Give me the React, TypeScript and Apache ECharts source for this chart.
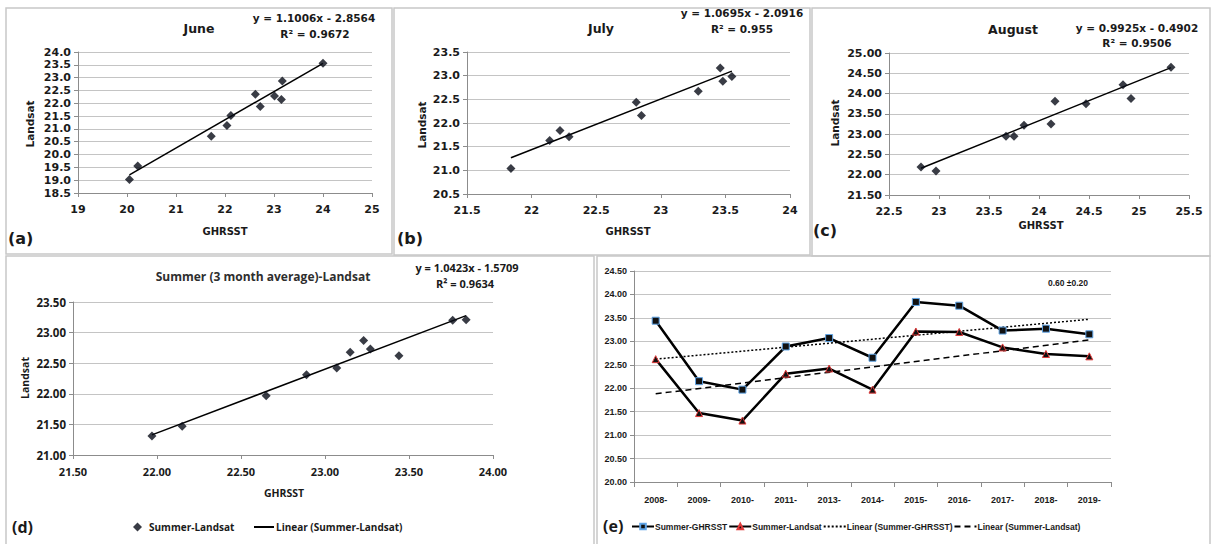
import React, { useEffect, useRef } from "react";
import * as echarts from "echarts";

// ---------- data ----------
// (a) June
const juneGhrsst = [20.05, 20.22, 21.72, 22.04, 22.12, 22.62, 22.72, 23.01, 23.15, 23.17, 24.0];
const juneLandsat = [19.03, 19.55, 20.71, 21.13, 21.52, 22.35, 21.87, 22.28, 22.15, 22.87, 23.56];
const juneFit = [1.1006, -2.8564];
// (b) July
const julyGhrsst = [21.84, 22.14, 22.22, 22.29, 22.81, 22.85, 23.29, 23.46, 23.48, 23.55];
const julyLandsat = [21.04, 21.63, 21.84, 21.71, 22.44, 22.16, 22.67, 23.16, 22.88, 22.98];
const julyFit = [1.0695, -2.0916];
// (c) August
const augGhrsst = [22.82, 22.97, 23.67, 23.75, 23.85, 24.12, 24.16, 24.47, 24.84, 24.92, 25.32];
const augLandsat = [22.19, 22.09, 22.95, 22.95, 23.22, 23.25, 23.81, 23.75, 24.22, 23.88, 24.65];
const augFit = [0.9925, -0.4902];
// (d)/(e) summer (3 month average)
const years = ["2008-", "2009-", "2010-", "2011-", "2013-", "2014-", "2015-", "2016-", "2017-", "2018-", "2019-"];
const summerGhrsst = [23.44, 22.15, 21.97, 22.89, 23.07, 22.65, 23.84, 23.76, 23.23, 23.27, 23.15];
const summerLandsat = [22.62, 21.47, 21.31, 22.31, 22.42, 21.97, 23.21, 23.2, 22.87, 22.73, 22.68];
const summerFit = [1.0423, -1.5709];
const ghrsstTrendEnds = [22.62, 23.47];
const landsatTrendEnds = [21.88, 23.03];

const equations = {
  a: ["y = 1.1006x - 2.8564", "R² = 0.9672"],
  b: ["y = 1.0695x - 2.0916", "R² = 0.955"],
  c: ["y = 0.9925x - 0.4902", "R² = 0.9506"],
  d: ["y = 1.0423x - 1.5709", "R² = 0.9634"],
};

// ---------- helpers ----------
const ABC = "'DejaVu Sans', sans-serif";
const DF = "'Open Sans', sans-serif";
const EF = "'Liberation Sans', Arial, sans-serif";
const TXT = "#1a1a1a";
const GRID = "#c4c4c4";
const AXIS = "#8c8c8c";
const MARK = "#070b16";

const zip = (xs: number[], ys: number[]) => xs.map((x, i) => [x, ys[i]]);
const fitLine = (xs: number[], fit: number[]) => {
  const x0 = Math.min(...xs);
  const x1 = Math.max(...xs);
  return [
    [x0, fit[0] * x0 + fit[1]],
    [x1, fit[0] * x1 + fit[1]],
  ];
};

function valueAxis(idx: number, min: number, max: number, interval: number, digits: number | null, font: string, size: number, isY: boolean) {
  return {
    type: "value",
    gridIndex: idx,
    min,
    max,
    interval,
    axisLine: { show: true, lineStyle: { color: AXIS, width: 1 } },
    axisTick: { show: true, length: 4, lineStyle: { color: AXIS } },
    splitLine: { show: isY, lineStyle: { color: GRID, width: 1 } },
    axisLabel: {
      fontFamily: font,
      fontWeight: "bold",
      fontSize: size,
      color: TXT,
      margin: isY ? 7 : 11,
      formatter: (v: number) => (digits === null ? String(+v.toFixed(2)) : v.toFixed(digits)),
    },
  };
}

const txt = (x: number, y: number, text: string, font: string, size: number, extra: any = {}) => ({
  type: "text",
  x,
  y,
  silent: true,
  ...extra,
  style: {
    text,
    fontFamily: font,
    fontWeight: "bold",
    fontSize: size,
    fill: TXT,
    align: "center",
    verticalAlign: "middle",
    ...(extra.style || {}),
  },
});

const border = (x: number, y: number, w: number, h: number) => ({
  type: "rect",
  silent: true,
  shape: { x, y, width: w, height: h },
  style: { fill: "none", stroke: "#c8c8c8", lineWidth: 1.5 },
});

const stripPrefix = (name: string) => name.replace(/^[a-e]:/, "");

export default function App() {
  const ref = useRef<HTMLDivElement>(null);

  useEffect(() => {
    if (!ref.current) return;
    const chart = echarts.init(ref.current, null, { renderer: "svg" });

    const scatterSeries = (name: string, idx: number, xs: number[], ys: number[]) => ({
      name,
      type: "scatter",
      xAxisIndex: idx,
      yAxisIndex: idx,
      symbol: "diamond",
      symbolSize: 9,
      itemStyle: { color: MARK },
      data: zip(xs, ys),
      z: 3,
    });
    const trendSeries = (name: string, idx: number, xs: number[], fit: number[]) => ({
      name,
      type: "line",
      xAxisIndex: idx,
      yAxisIndex: idx,
      symbol: "none",
      lineStyle: { color: "#000", width: 1.5 },
      itemStyle: { color: "#000" },
      data: fitLine(xs, fit),
      z: 2,
    });

    const dLegendText = { fontFamily: DF, fontWeight: "bold", fontSize: 10, color: TXT };

    const option: any = {
      animation: false,
      backgroundColor: "#ffffff",
      grid: [
        { left: 78, top: 52, width: 294, height: 141 },
        { left: 467, top: 52, width: 323, height: 142 },
        { left: 889, top: 53, width: 300, height: 142 },
        { left: 73, top: 302, width: 420, height: 153 },
        { left: 634, top: 271, width: 477, height: 211 },
      ],
      xAxis: [
        valueAxis(0, 19, 25, 1, 0, ABC, 11, false),
        valueAxis(1, 21.5, 24, 0.5, null, ABC, 11, false),
        valueAxis(2, 22.5, 25.5, 0.5, null, ABC, 11, false),
        valueAxis(3, 21.5, 24, 0.5, 2, DF, 11, false),
        {
          type: "category",
          gridIndex: 4,
          data: years,
          boundaryGap: true,
          axisLine: { show: true, lineStyle: { color: AXIS } },
          axisTick: { show: true, length: 5, alignWithLabel: false, lineStyle: { color: AXIS } },
          axisLabel: { fontFamily: EF, fontWeight: "bold", fontSize: 9, color: TXT, margin: 13 },
        },
      ],
      yAxis: [
        valueAxis(0, 18.5, 24, 0.5, 1, ABC, 11, true),
        valueAxis(1, 20.5, 23.5, 0.5, 1, ABC, 11, true),
        valueAxis(2, 21.5, 25, 0.5, 2, ABC, 11, true),
        valueAxis(3, 21, 23.5, 0.5, 2, DF, 11.5, true),
        valueAxis(4, 20, 24.5, 0.5, 2, EF, 9, true),
      ],
      legend: [
        {
          left: 133,
          top: 522,
          padding: 0,
          itemWidth: 9,
          itemHeight: 9,
          selectedMode: false,
          formatter: stripPrefix,
          textStyle: { ...dLegendText, padding: [0, 0, 0, 2] },
          data: [{ name: "d:Summer-Landsat", icon: "diamond" }],
        },
        {
          left: 253,
          top: 522,
          padding: 0,
          itemWidth: 20,
          itemHeight: 10,
          selectedMode: false,
          formatter: stripPrefix,
          textStyle: { ...dLegendText, padding: [0, 0, 0, -3] },
          data: [{ name: "d:Linear (Summer-Landsat)", itemStyle: { opacity: 0 } }],
        },
        {
          left: 631,
          top: 522,
          padding: 0,
          itemWidth: 22,
          itemHeight: 7,
          itemGap: 1,
          selectedMode: false,
          formatter: stripPrefix,
          textStyle: { fontFamily: EF, fontWeight: "bold", fontSize: 8.5, color: TXT, padding: [0, 0, 0, -4] },
          data: [
            "e:Summer-GHRSST",
            "e:Summer-Landsat",
            { name: "e:Linear (Summer-GHRSST)", itemStyle: { opacity: 0 } },
            { name: "e:Linear (Summer-Landsat)", itemStyle: { opacity: 0 } },
          ],
        },
      ],
      series: [
        trendSeries("a:trend", 0, juneGhrsst, juneFit),
        scatterSeries("a:June", 0, juneGhrsst, juneLandsat),
        trendSeries("b:trend", 1, julyGhrsst, julyFit),
        scatterSeries("b:July", 1, julyGhrsst, julyLandsat),
        trendSeries("c:trend", 2, augGhrsst, augFit),
        scatterSeries("c:August", 2, augGhrsst, augLandsat),
        trendSeries("d:Linear (Summer-Landsat)", 3, summerGhrsst, summerFit),
        scatterSeries("d:Summer-Landsat", 3, summerGhrsst, summerLandsat),
        {
          name: "e:Linear (Summer-GHRSST)",
          type: "line",
          xAxisIndex: 4,
          yAxisIndex: 4,
          symbol: "none",
          lineStyle: { color: "#000", width: 1.5, type: [2, 2] },
          itemStyle: { color: "#000" },
          data: [
            [years[0], ghrsstTrendEnds[0]],
            [years[years.length - 1], ghrsstTrendEnds[1]],
          ],
          z: 2,
        },
        {
          name: "e:Linear (Summer-Landsat)",
          type: "line",
          xAxisIndex: 4,
          yAxisIndex: 4,
          symbol: "none",
          lineStyle: { color: "#000", width: 1.5, type: [6, 4] },
          itemStyle: { color: "#000" },
          data: [
            [years[0], landsatTrendEnds[0]],
            [years[years.length - 1], landsatTrendEnds[1]],
          ],
          z: 2,
        },
        {
          name: "e:Summer-GHRSST",
          type: "line",
          xAxisIndex: 4,
          yAxisIndex: 4,
          symbol: "rect",
          symbolSize: 7,
          showAllSymbol: true,
          lineStyle: { color: "#000", width: 2.5 },
          itemStyle: { color: "#111", borderColor: "#5fa4e6", borderWidth: 1 },
          data: summerGhrsst,
          z: 3,
        },
        {
          name: "e:Summer-Landsat",
          type: "line",
          xAxisIndex: 4,
          yAxisIndex: 4,
          symbol: "triangle",
          symbolSize: 7,
          showAllSymbol: true,
          lineStyle: { color: "#000", width: 2.5 },
          itemStyle: { color: "#111", borderColor: "#e03a3a", borderWidth: 1 },
          data: summerLandsat,
          z: 3,
        },
      ],
      graphic: [
        border(6, 8, 386, 246),
        border(394, 8, 416, 247),
        border(812, 8, 398, 248),
        border(6, 256, 588, 292),
        border(597, 256, 613, 292),
        // (a)
        txt(199, 28, "June", ABC, 12.5),
        txt(314, 18, equations.a[0], ABC, 10.5),
        txt(315, 34, equations.a[1], ABC, 10.5),
        txt(225, 231, "GHRSST", ABC, 10),
        txt(30, 124, "Landsat", ABC, 10.5, { rotation: Math.PI / 2 }),
        txt(8, 238, "(a)", ABC, 16, { style: { align: "left" } }),
        // (b)
        txt(601, 28, "July", ABC, 12.5),
        txt(742, 13, equations.b[0], ABC, 10.5),
        txt(742, 29, equations.b[1], ABC, 10.5),
        txt(628, 231, "GHRSST", ABC, 10),
        txt(422, 125, "Landsat", ABC, 10.5, { rotation: Math.PI / 2 }),
        txt(397, 238, "(b)", ABC, 16, { style: { align: "left" } }),
        // (c)
        txt(1013, 29, "August", ABC, 12.5),
        txt(1137, 28, equations.c[0], ABC, 10.5),
        txt(1137, 43, equations.c[1], ABC, 10.5),
        txt(1041, 225, "GHRSST", ABC, 10),
        txt(835, 123, "Landsat", ABC, 10.5, { rotation: Math.PI / 2 }),
        txt(813, 230, "(c)", ABC, 16, { style: { align: "left" } }),
        // (d)
        txt(263, 276, "Summer (3 month average)-Landsat", DF, 12, { style: { fill: "#2e2e2e" } }),
        txt(467, 267, equations.d[0], DF, 11),
        txt(465, 283, equations.d[1], DF, 11),
        txt(284, 493, "GHRSST", DF, 10.5),
        txt(25, 378, "Landsat", DF, 10.5, { rotation: Math.PI / 2 }),
        txt(12, 527, "(d)", DF, 16, { style: { align: "left" } }),
        // (e)
        txt(1068, 283, "0.60 ±0.20", EF, 8.5),
        txt(603, 526, "(e)", DF, 16, { style: { align: "left" } }),
      ],
    };

    chart.setOption(option);
    return () => chart.dispose();
  }, []);

  return (
    <div
      ref={ref}
      style={{ position: "fixed", left: 0, top: 0, width: 1212, height: 544, background: "#fff" }}
    />
  );
}
